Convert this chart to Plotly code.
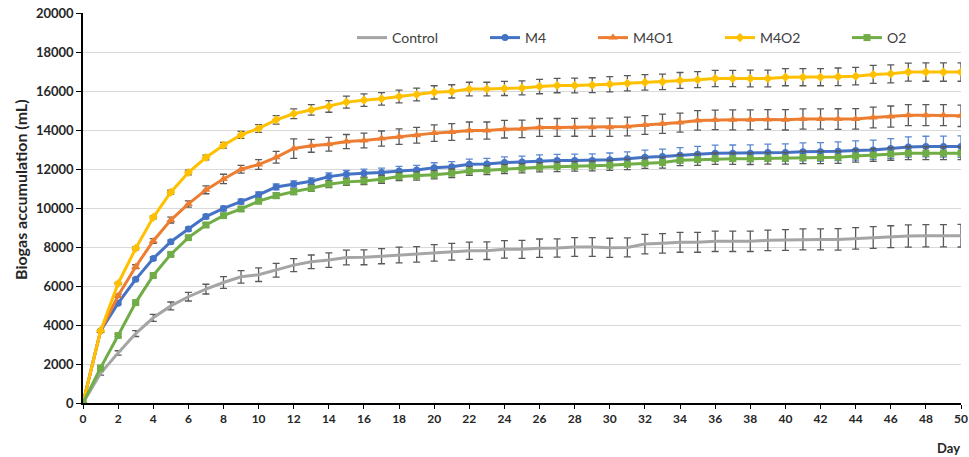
import plotly.graph_objects as go

# Days of digestion
days = list(range(0, 51))

# Cumulative biogas (mL) per treatment
control = [0, 1520, 2570, 3560, 4370, 4980, 5450, 5840, 6180, 6470, 6580,
           6810, 7070, 7240, 7330, 7460, 7470, 7530, 7590, 7620, 7700,
           7760, 7810, 7810, 7880, 7880, 7940, 7950, 8000, 8000, 7960,
           7980, 8150, 8190, 8240, 8240, 8290, 8290, 8290, 8340, 8360,
           8390, 8390, 8390, 8440, 8490, 8530, 8560, 8580, 8580, 8580]
m4 = [0, 3700, 5120, 6340, 7410, 8270, 8920, 9560, 9980, 10330, 10680,
      11080, 11230, 11370, 11610, 11730, 11780, 11820, 11900, 11950, 12070,
      12120, 12240, 12260, 12330, 12360, 12410, 12430, 12430, 12440, 12470,
      12520, 12600, 12640, 12710, 12760, 12810, 12810, 12810, 12840, 12840,
      12880, 12880, 12910, 12950, 12980, 13050, 13130, 13150, 13150, 13150]
m4o1 = [0, 3700, 5500, 6990, 8310, 9380, 10210, 10930, 11490, 11990, 12230,
        12600, 13050, 13190, 13270, 13410, 13460, 13560, 13660, 13730, 13840,
        13900, 13970, 13970, 14040, 14060, 14130, 14130, 14140, 14140, 14140,
        14180, 14260, 14320, 14380, 14490, 14520, 14520, 14520, 14540, 14520,
        14560, 14560, 14560, 14570, 14640, 14690, 14760, 14760, 14760, 14730]
m4o2 = [0, 3700, 6130, 7930, 9520, 10810, 11820, 12590, 13220, 13750, 14080,
        14520, 14830, 15030, 15210, 15430, 15530, 15600, 15720, 15820, 15930,
        15980, 16100, 16100, 16130, 16160, 16230, 16280, 16280, 16300, 16350,
        16400, 16440, 16470, 16540, 16580, 16640, 16640, 16640, 16640, 16710,
        16710, 16710, 16730, 16760, 16850, 16880, 16970, 16970, 16970, 16970]
o2 = [0, 1800, 3460, 5150, 6540, 7620, 8480, 9130, 9610, 9950, 10350,
      10630, 10840, 11010, 11220, 11340, 11390, 11470, 11610, 11640, 11700,
      11780, 11900, 11940, 12000, 12040, 12090, 12120, 12140, 12160, 12190,
      12240, 12300, 12330, 12450, 12480, 12530, 12530, 12530, 12550, 12550,
      12590, 12590, 12600, 12670, 12710, 12770, 12810, 12810, 12810, 12810]

# Standard deviations (mL)
control_sd = [0, 90, 110, 150, 180, 200, 220, 250, 300, 320, 350,
              350, 330, 350, 370, 380, 380, 390, 400, 400, 420,
              430, 440, 450, 450, 460, 470, 470, 480, 480, 490,
              490, 500, 500, 510, 510, 520, 520, 520, 530, 530,
              540, 540, 550, 550, 560, 560, 570, 570, 570, 580]
m4_sd = [0, 60, 70, 80, 90, 100, 100, 110, 120, 130, 140,
         150, 160, 170, 190, 200, 210, 220, 230, 240, 250,
         260, 270, 280, 290, 300, 310, 320, 330, 340, 350,
         360, 370, 380, 390, 400, 410, 420, 430, 440, 450,
         460, 470, 480, 490, 500, 510, 520, 530, 540, 550]
m4o1_sd = [0, 60, 80, 100, 120, 150, 160, 200, 240, 200, 250,
           300, 500, 330, 350, 360, 380, 390, 400, 400, 420,
           430, 440, 440, 450, 450, 460, 460, 460, 470, 470,
           480, 480, 490, 490, 500, 500, 510, 510, 510, 520,
           520, 520, 530, 530, 530, 540, 540, 540, 540, 550]
m4o2_sd = [0, 50, 60, 80, 80, 100, 120, 120, 150, 180, 200,
           220, 250, 270, 300, 310, 320, 320, 330, 330, 340,
           340, 350, 350, 360, 360, 370, 370, 380, 380, 390,
           390, 400, 400, 410, 410, 420, 420, 430, 430, 440,
           440, 440, 450, 450, 460, 460, 460, 470, 470, 470]
o2_sd = [0, 50, 60, 60, 80, 80, 90, 100, 100, 120, 130,
         140, 150, 160, 170, 180, 190, 200, 200, 210, 210,
         220, 220, 230, 230, 240, 240, 250, 250, 260, 260,
         270, 270, 280, 280, 290, 290, 290, 300, 300, 300,
         310, 310, 310, 320, 320, 320, 330, 330, 330, 330]

# Axis ticks
x_ticks = list(range(0, 51, 2))
x_tick_labels = [str(v) for v in x_ticks]
y_ticks = list(range(0, 20001, 2000))
y_tick_labels = [str(v) for v in y_ticks]

names = ["Control", "M4", "M4O1", "M4O2", "O2"]
colors = ["#A5A5A5", "#4472C4", "#ED7D31", "#FFC000", "#70AD47"]
symbols = [None, "circle", "triangle-up", "diamond", "square"]
err_colors = ["#595959", "#5B87D0", "#595959", "#595959", "#595959"]
series = [control, m4, m4o1, m4o2, o2]
sds = [control_sd, m4_sd, m4o1_sd, m4o2_sd, o2_sd]
legend_x_px = [352, 485, 593, 720, 847]

FONT = "Lato"
L, R, T, B = 83, 8, 13, 54
W, H = 969, 457
plot_w = W - L - R
plot_h = H - T - B

fig = go.Figure()
legend_keys = ["legend", "legend2", "legend3", "legend4", "legend5"]
for i, name in enumerate(names):
    mode = "lines" if symbols[i] is None else "lines+markers"
    marker = dict(color=colors[i], size=7) if symbols[i] is None else dict(
        color=colors[i], size=7 if symbols[i] != "triangle-up" else 8,
        symbol=symbols[i])
    fig.add_trace(go.Scatter(
        x=days, y=series[i], name=name, mode=mode,
        line=dict(color=colors[i], width=3),
        marker=marker,
        error_y=dict(type="data", array=sds[i], visible=True,
                     color=err_colors[i], thickness=1.3, width=3.5),
        legend=legend_keys[i],
    ))

legend_y = (H - B - 38) / plot_h
for i, key in enumerate(legend_keys):
    fig.layout[key] = dict(
        x=(legend_x_px[i] - L) / plot_w, y=legend_y,
        xanchor="left", yanchor="middle", orientation="h",
        bgcolor="rgba(0,0,0,0)", borderwidth=0,
        font=dict(family=FONT, size=14, color="#404040"),
        itemwidth=30,
    )

fig.update_layout(
    width=W, height=H,
    margin=dict(l=L, r=R, t=T, b=B, autoexpand=False),
    paper_bgcolor="white", plot_bgcolor="white",
    showlegend=True,
    font=dict(family=FONT),
)
fig.update_xaxes(
    range=[0, 50.0001], tickmode="array", tickvals=x_ticks, ticktext=x_tick_labels,
    showgrid=False, zeroline=False, ticklabeloverflow="allow",
    showline=True, linecolor="#000000", linewidth=1.5,
    ticks="outside", ticklen=4, tickcolor="#000000",
    tickfont=dict(family=FONT, size=12, color="#262626", weight="bold"),
)
fig.update_yaxes(
    range=[0, 20000.01], tickmode="array", tickvals=y_ticks, ticktext=y_tick_labels,
    showgrid=True, gridcolor="#D9D9D9", gridwidth=1.2, zeroline=False,
    showline=True, linecolor="#000000", linewidth=1.5,
    ticks="outside", ticklen=5, tickcolor="#000000",
    tickfont=dict(family=FONT, size=13, color="#262626", weight="bold"),
)
# Axis titles
fig.add_annotation(
    text="Biogas accumulation (mL)", xref="paper", yref="paper",
    x=-(L - 20) / plot_w, y=(H - B - 190) / plot_h, textangle=-90,
    xanchor="center", yanchor="middle", showarrow=False,
    font=dict(family=FONT, size=16, color="#262626", weight="bold"),
)
fig.add_annotation(
    text="Day", xref="paper", yref="paper",
    x=(948 - L) / plot_w, y=-(448 - (H - B)) / plot_h,
    xanchor="center", yanchor="middle", showarrow=False,
    font=dict(family=FONT, size=13, color="#262626", weight="bold"),
)

fig.write_html("out.html")
